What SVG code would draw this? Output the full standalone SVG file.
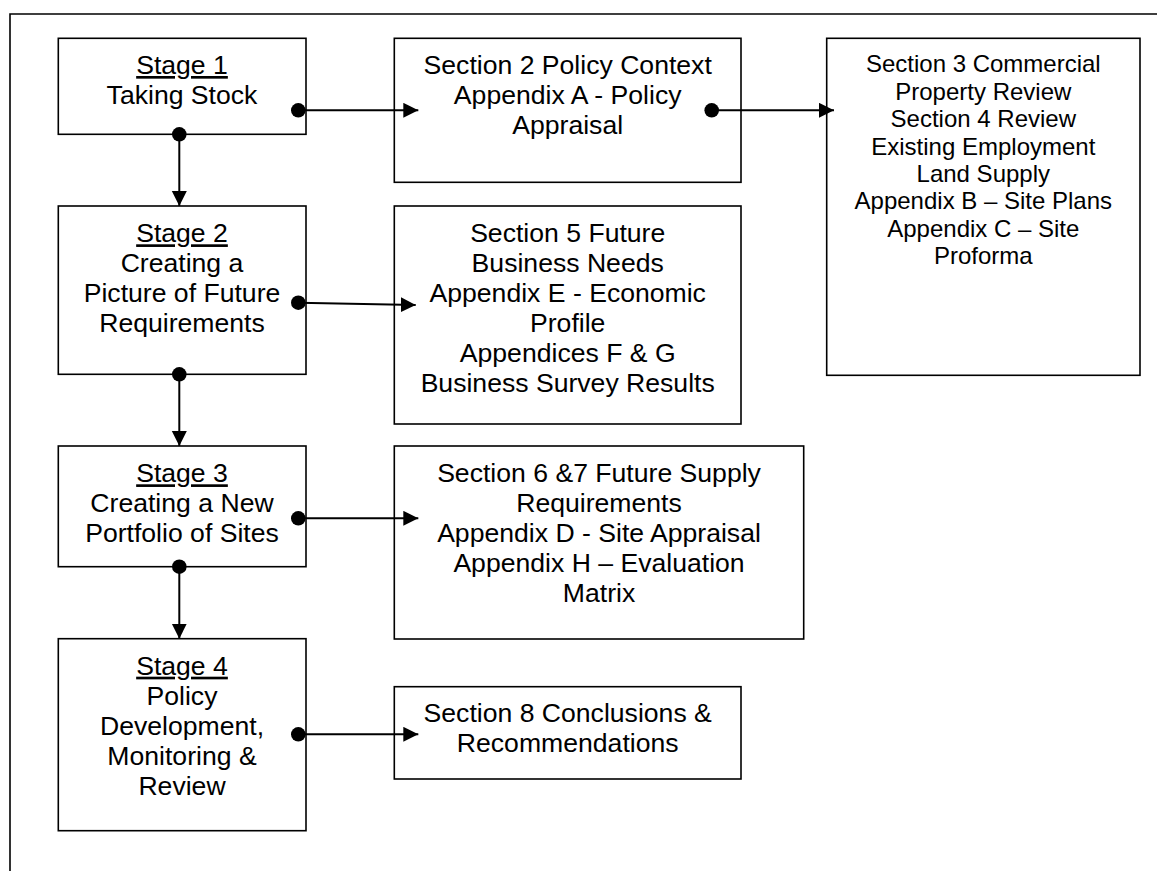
<svg xmlns="http://www.w3.org/2000/svg" width="1157" height="871" viewBox="0 0 1157 871">
<defs>
<style>
.box{fill:#fff;stroke:#000;stroke-width:1.6}
.t{font-family:"Liberation Sans",Arial,sans-serif;font-size:26.6px;fill:#000;text-anchor:middle}
.s{font-size:24px}
.u{text-decoration:underline}
.c{fill:none;stroke:#000;stroke-width:2}
.dot{fill:#000}
</style>
<marker id="arr" markerUnits="userSpaceOnUse" markerWidth="16" markerHeight="16" refX="15" refY="7.5" orient="auto" viewBox="0 0 16 16">
<path d="M0,0 L15,7.5 L0,15 Z" fill="#000"/>
</marker>
</defs>
<rect width="1157" height="871" fill="#fff"/>
<g id="frame">
<path d="M10,871 L10,14 L1157,14" fill="none" stroke="#000" stroke-width="1.6"/>
</g>
<g id="stage1">
<rect class="box" x="58.3" y="38.3" width="247.7" height="96"/>
<text class="t" x="182" y="74"><tspan class="u">Stage 1</tspan><tspan x="182" dy="30">Taking Stock</tspan></text>
</g>
<g id="section2">
<rect class="box" x="394.3" y="38.3" width="346.7" height="144"/>
<text class="t" x="567.7" y="74">Section 2 Policy Context<tspan x="567.7" dy="30">Appendix A - Policy</tspan><tspan x="567.7" dy="30">Appraisal</tspan></text>
</g>
<g id="section3">
<rect class="box" x="826.7" y="38.3" width="313.3" height="337"/>
<text class="t s" x="983.3" y="72.3">Section 3 Commercial<tspan x="983.3" dy="27.4">Property Review</tspan><tspan x="983.3" dy="27.4">Section 4 Review</tspan><tspan x="983.3" dy="27.4">Existing Employment</tspan><tspan x="983.3" dy="27.4">Land Supply</tspan><tspan x="983.3" dy="27.4">Appendix B – Site Plans</tspan><tspan x="983.3" dy="27.4">Appendix C – Site</tspan><tspan x="983.3" dy="27.4">Proforma</tspan></text>
</g>
<g id="stage2">
<rect class="box" x="58.3" y="206" width="247.7" height="168.3"/>
<text class="t" x="182" y="242.3"><tspan class="u">Stage 2</tspan><tspan x="182" dy="30">Creating a</tspan><tspan x="182" dy="30">Picture of Future</tspan><tspan x="182" dy="30">Requirements</tspan></text>
</g>
<g id="section5">
<rect class="box" x="394.3" y="206" width="346.7" height="218"/>
<text class="t" x="567.7" y="241.7">Section 5 Future<tspan x="567.7" dy="30">Business Needs</tspan><tspan x="567.7" dy="30">Appendix E - Economic</tspan><tspan x="567.7" dy="30">Profile</tspan><tspan x="567.7" dy="30">Appendices F &amp; G</tspan><tspan x="567.7" dy="30">Business Survey Results</tspan></text>
</g>
<g id="stage3">
<rect class="box" x="58.3" y="446" width="247.7" height="120.7"/>
<text class="t" x="182" y="482.3"><tspan class="u">Stage 3</tspan><tspan x="182" dy="30">Creating a New</tspan><tspan x="182" dy="30">Portfolio of Sites</tspan></text>
</g>
<g id="section6">
<rect class="box" x="394.3" y="446" width="409.4" height="193"/>
<text class="t" x="599" y="481.7">Section 6 &amp;7 Future Supply<tspan x="599" dy="30">Requirements</tspan><tspan x="599" dy="30">Appendix D - Site Appraisal</tspan><tspan x="599" dy="30">Appendix H – Evaluation</tspan><tspan x="599" dy="30">Matrix</tspan></text>
</g>
<g id="stage4">
<rect class="box" x="58.3" y="638.7" width="247.7" height="192"/>
<text class="t" x="182" y="674.7"><tspan class="u">Stage 4</tspan><tspan x="182" dy="30">Policy</tspan><tspan x="182" dy="30">Development,</tspan><tspan x="182" dy="30">Monitoring &amp;</tspan><tspan x="182" dy="30">Review</tspan></text>
</g>
<g id="section8">
<rect class="box" x="394.3" y="686.7" width="346.7" height="92.3"/>
<text class="t" x="567.7" y="721.7">Section 8 Conclusions &amp;<tspan x="567.7" dy="30">Recommendations</tspan></text>
</g>
<g id="connectors">
<path class="c" d="M298.3,110.3 L418.3,110.3" marker-end="url(#arr)"/>
<circle class="dot" cx="298.3" cy="110.3" r="7.3"/>
<path class="c" d="M711.7,110.3 L834,110.3" marker-end="url(#arr)"/>
<circle class="dot" cx="711.7" cy="110.3" r="7.3"/>
<path class="c" d="M179.3,134.3 L179.3,206" marker-end="url(#arr)"/>
<circle class="dot" cx="179.3" cy="134.3" r="7.3"/>
<path class="c" d="M298.3,302.7 L415.7,305" marker-end="url(#arr)"/>
<circle class="dot" cx="298.3" cy="302.7" r="7.3"/>
<path class="c" d="M179.3,374.3 L179.3,446" marker-end="url(#arr)"/>
<circle class="dot" cx="179.3" cy="374.3" r="7.3"/>
<path class="c" d="M298.3,518.3 L418.3,518.3" marker-end="url(#arr)"/>
<circle class="dot" cx="298.3" cy="518.3" r="7.3"/>
<path class="c" d="M179.3,566.7 L179.3,638.7" marker-end="url(#arr)"/>
<circle class="dot" cx="179.3" cy="566.7" r="7.3"/>
<path class="c" d="M298.3,734.3 L418.3,734.3" marker-end="url(#arr)"/>
<circle class="dot" cx="298.3" cy="734.3" r="7.3"/>
</g>
</svg>
